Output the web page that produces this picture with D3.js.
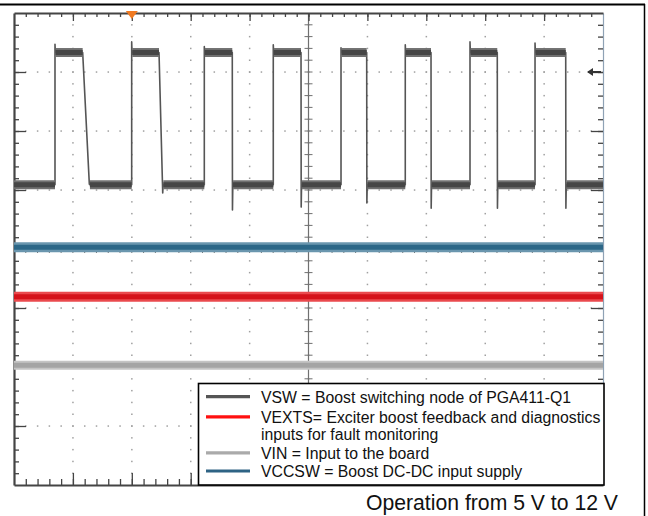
<!DOCTYPE html>
<html>
<head>
<meta charset="utf-8">
<script src="https://cdn.jsdelivr.net/npm/d3@7"></script>
<style>
  html, body { margin: 0; padding: 0; background: #fff; }
  svg { display: block; }
  text { font-family: "Liberation Sans", Arial, sans-serif; }
</style>
</head>
<body>
<svg id="chart" width="648" height="516"></svg>
<script>
// ---- Data (scope divisions: time 0..10 div, amplitude -4..4 div) ----
const xDomain = [0, 10];
const yDomain = [-4, 4];

// VSW switching node
const vswHigh = 3.33;
const vswLow = 1.09;
const vswRise = [0.696, 1.998, 3.231, 4.402, 5.552, 6.643, 7.742, 8.846];
const vswRiseOvershoot = [3.47, 3.51, 3.43, 3.46, 3.41, 3.46, 3.51, 3.49];
const vswFallStart = [1.166, 2.462, 3.706, 4.873, 5.988, 7.080, 8.205, 9.367];
const vswFallEnd = [1.279, 2.525, 3.709, 4.876, 5.991, 7.083, 8.208, 9.370];
const vswFallUndershoot = [1.10, 0.95, 0.66, 0.71, 0.78, 0.69, 0.69, 0.69];

// Flat traces
const vccswLevel = [0.03, 0.03];
const vextsLevel = [-0.81, -0.81];
const vinLevel = [-1.97, -1.97];
const flatTimes = [0, 10];

const triggerTime = 2.0;
const refArrowLevel = 3.0;

const legendLabels = [
  ["VSW = Boost switching node of PGA411-Q1"],
  ["VEXTS= Exciter boost feedback and diagnostics", "inputs for fault monitoring"],
  ["VIN = Input to the board"],
  ["VCCSW = Boost DC-DC input supply"]
];
const legendColors = ["#555555", "#ff1010", "#aaaaaa", "#2e6384"];
const caption = "Operation from 5 V to 12 V";

// ---- Layout ----
const svg = d3.select("#chart");
const W = 648, H = 516;
const plot = { left: 14, right: 603, top: 13, bottom: 485 };
const x = d3.scaleLinear().domain(xDomain).range([plot.left, plot.right]);
const y = d3.scaleLinear().domain(yDomain).range([plot.bottom, plot.top]);

svg.append("rect").attr("width", W).attr("height", H).attr("fill", "#fff");

// Outer frame (top and right)
svg.append("line").attr("x1", 0).attr("x2", 645).attr("y1", 4.5).attr("y2", 4.5)
  .attr("stroke", "#000").attr("stroke-width", 2);
svg.append("line").attr("x1", 644.5).attr("x2", 644.5).attr("y1", 4).attr("y2", H)
  .attr("stroke", "#000").attr("stroke-width", 1.5);

// Dotted grid
const grid = svg.append("g");
const majorX = d3.range(1, 10);
const majorY = d3.range(-3, 4);
const minorX = d3.range(0, 50).map(i => i * 0.2).filter(v => v > 0 && v < 10);
const minorY = d3.range(0, 40).map(i => -4 + i * 0.2).filter(v => v > -4 && v < 4);
majorX.forEach(mx => {
  minorY.forEach(my => {
    grid.append("rect").attr("x", x(mx) - 0.7).attr("y", y(my) - 0.7)
      .attr("width", 1.5).attr("height", 1.5).attr("fill", "#a0a0a0");
  });
});
majorY.forEach(my => {
  minorX.forEach(mx => {
    grid.append("rect").attr("x", x(mx) - 0.7).attr("y", y(my) - 0.7)
      .attr("width", 1.5).attr("height", 1.5).attr("fill", "#a0a0a0");
  });
});

// Center crosshair with minor ticks
const cross = svg.append("g");
cross.append("line").attr("x1", x(5)).attr("x2", x(5)).attr("y1", plot.top).attr("y2", plot.bottom)
  .attr("stroke", "#707070").attr("stroke-width", 1.2);
cross.append("line").attr("x1", plot.left).attr("x2", plot.right).attr("y1", y(0)).attr("y2", y(0))
  .attr("stroke", "#707070").attr("stroke-width", 1.2);
minorY.forEach(my => {
  cross.append("line").attr("x1", x(5) - 4).attr("x2", x(5) + 4).attr("y1", y(my)).attr("y2", y(my))
    .attr("stroke", "#707070").attr("stroke-width", 1);
});
minorX.forEach(mx => {
  cross.append("line").attr("x1", x(mx)).attr("x2", x(mx)).attr("y1", y(0) - 4).attr("y2", y(0) + 4)
    .attr("stroke", "#707070").attr("stroke-width", 1);
});

// Edge axes
function edgeAxis(axisFn, scale, pos, attr, minorVals, majorVals, minorLen, majorLen, domainColor, domainWidth) {
  const g = svg.append("g").attr("transform", attr === "x" ? `translate(${pos},0)` : `translate(0,${pos})`);
  g.call(axisFn(scale).tickValues(minorVals).tickSize(minorLen).tickSizeOuter(0).tickFormat(""));
  const g2 = svg.append("g").attr("transform", attr === "x" ? `translate(${pos},0)` : `translate(0,${pos})`);
  g2.call(axisFn(scale).tickValues(majorVals).tickSize(majorLen).tickSizeOuter(0).tickFormat(""));
  g2.select(".domain").remove();
  g.select(".domain").attr("stroke", domainColor).attr("stroke-width", domainWidth);
  [g, g2].forEach(gg => gg.selectAll(".tick line").attr("stroke", "#444").attr("stroke-width", 1.3));
}
edgeAxis(d3.axisRight, y, plot.left, "x", minorY, majorY, 5, 12, "#444", 2.2);
edgeAxis(d3.axisLeft, y, plot.right, "x", minorY, majorY, 5, 12, "#8fa2b5", 1.2);
edgeAxis(d3.axisBottom, x, plot.top, "y", minorX, majorX, 4, 8, "#444", 2.2);
edgeAxis(d3.axisTop, x, plot.bottom, "y", minorX, majorX, 6, 12, "#444", 2.2);

// ---- Traces ----
const line = d3.line().x(d => x(d[0])).y(d => y(d[1]));

// Flat traces: wide light noise band + darker core
function flatTrace(level, colorBand, colorCore, wBand, wCore) {
  const pts = flatTimes.map((t, i) => [t, level[i]]);
  svg.append("path").attr("d", line(pts)).attr("fill", "none")
    .attr("stroke", colorBand).attr("stroke-width", wBand);
  svg.append("path").attr("d", line(pts)).attr("fill", "none")
    .attr("stroke", colorCore).attr("stroke-width", wCore);
}
flatTrace(vinLevel, "#c4c4c4", "#a4a4a4", 9, 5);
flatTrace(vextsLevel, "#ea4a4e", "#d5121a", 10, 5);
flatTrace(vccswLevel, "#6a96ae", "#2c6787", 10, 5);

// VSW waveform
const vswPts = [[0, vswLow]];
const plateaus = [];
let segStart = 0;
vswRise.forEach((tr, i) => {
  plateaus.push([segStart, tr, vswLow]);
  vswPts.push([tr, vswLow], [tr, vswRiseOvershoot[i]], [tr + 0.006, vswHigh]);
  plateaus.push([tr + 0.01, vswFallStart[i], vswHigh]);
  vswPts.push([vswFallStart[i], vswHigh]);
  vswPts.push([vswFallEnd[i], vswFallUndershoot[i]]);
  vswPts.push([vswFallEnd[i] + 0.006, vswLow]);
  segStart = vswFallEnd[i] + 0.01;
});
plateaus.push([segStart, 10, vswLow]);
vswPts.push([10, vswLow]);

svg.append("path").attr("d", line(vswPts)).attr("fill", "none")
  .attr("stroke", "#555").attr("stroke-width", 1.6).attr("stroke-linejoin", "round");
plateaus.forEach(p => {
  const pts = [[p[0], p[2]], [p[1], p[2]]];
  svg.append("path").attr("d", line(pts)).attr("fill", "none")
    .attr("stroke", "#707070").attr("stroke-width", 9);
  svg.append("path").attr("d", line(pts)).attr("fill", "none")
    .attr("stroke", "#464646").attr("stroke-width", 5);
});

// Trigger marker (orange triangle)
svg.append("path")
  .attr("d", `M${x(triggerTime) - 6},${plot.top - 2} L${x(triggerTime) + 6},${plot.top - 2} L${x(triggerTime)},${plot.top + 6} Z`)
  .attr("fill", "#f07a22");

// Reference level arrow at right
const ay = y(refArrowLevel);
svg.append("line").attr("x1", plot.right - 15).attr("x2", plot.right - 2).attr("y1", ay).attr("y2", ay)
  .attr("stroke", "#333").attr("stroke-width", 2);
svg.append("path")
  .attr("d", `M${plot.right - 16},${ay} L${plot.right - 10},${ay - 4} L${plot.right - 10},${ay + 4} Z`)
  .attr("fill", "#333");

// ---- Legend ----
const lg = svg.append("g");
lg.append("rect").attr("x", 198.5).attr("y", 383.5).attr("width", 405.5).attr("height", 101.5)
  .attr("fill", "#fff").attr("stroke", "#000").attr("stroke-width", 1.6);
const rowY = [402.5, 422.7, 458.6, 476.8];
legendLabels.forEach((lines, i) => {
  lg.append("line").attr("x1", 206).attr("x2", 250)
    .attr("y1", rowY[i] - 5.8).attr("y2", rowY[i] - 5.8)
    .attr("stroke", legendColors[i]).attr("stroke-width", 3.2);
  lines.forEach((txt, j) => {
    lg.append("text").attr("x", 261).attr("y", rowY[i] + j * 17.6)
      .attr("font-size", 15.8).attr("fill", "#111").text(txt);
  });
});

// Caption
svg.append("text").attr("x", 618).attr("y", 510).attr("text-anchor", "end")
  .attr("font-size", 21.2).attr("fill", "#111").text(caption);
</script>
</body>
</html>
